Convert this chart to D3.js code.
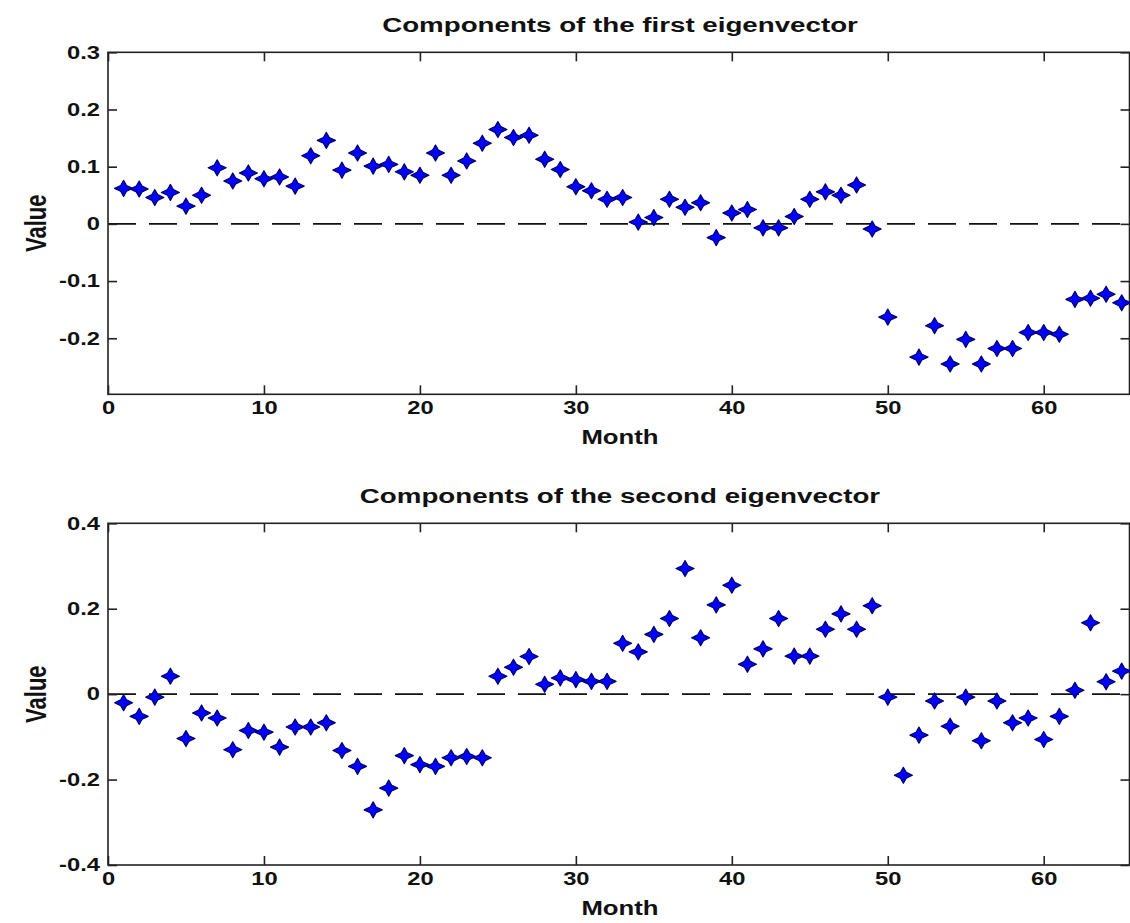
<!DOCTYPE html>
<html>
<head>
<meta charset="utf-8">
<script src="https://cdn.jsdelivr.net/npm/d3@7"></script>
<style>
  body { margin: 0; background: #fff; }
  svg text { font-family: "Liberation Sans", Arial, sans-serif; font-weight: bold; fill: #111; }
</style>
</head>
<body>
<svg id="chart" width="1130" height="923"></svg>
<script>
// months 1..65
let months = d3.range(1, 66);

// first eigenvector components (month 51 is not shown in the original)
let firstVec = [
  0.062, 0.061, 0.046, 0.055, 0.031, 0.050, 0.098, 0.075, 0.089, 0.079,
  0.082, 0.066, 0.119, 0.146, 0.094, 0.124, 0.101, 0.104, 0.091, 0.085,
  0.124, 0.085, 0.110, 0.141, 0.165, 0.151, 0.155, 0.113, 0.095, 0.065,
  0.058, 0.043, 0.046, 0.003, 0.011, 0.043, 0.029, 0.037, -0.024, 0.019,
  0.025, -0.007, -0.007, 0.013, 0.043, 0.056, 0.050, 0.068, -0.009, -0.163,
  null, -0.233, -0.178, -0.245, -0.202, -0.245, -0.218, -0.218, -0.190, -0.190,
  -0.193, -0.132, -0.130, -0.123, -0.138
];

// second eigenvector components
let secondVec = [
  -0.020, -0.052, -0.007, 0.042, -0.104, -0.044, -0.056, -0.130, -0.085, -0.089,
  -0.124, -0.077, -0.077, -0.067, -0.132, -0.169, -0.271, -0.220, -0.144, -0.165,
  -0.169, -0.149, -0.146, -0.149, 0.042, 0.063, 0.088, 0.023, 0.038, 0.034,
  0.030, 0.030, 0.119, 0.099, 0.140, 0.177, 0.294, 0.132, 0.209, 0.255,
  0.070, 0.106, 0.177, 0.089, 0.089, 0.152, 0.188, 0.152, 0.207, -0.007,
  -0.190, -0.096, -0.016, -0.075, -0.007, -0.109, -0.016, -0.067, -0.056, -0.106,
  -0.052, 0.009, 0.167, 0.029, 0.054
];

let xTicks = [0, 10, 20, 30, 40, 50, 60];
let yTicksTop = [-0.2, -0.1, 0, 0.1, 0.2, 0.3];
let yTicksBottom = [-0.4, -0.2, 0, 0.2, 0.4];

let panels = [
  { title: "Components of the first eigenvector", values: firstVec, yDomain: [-0.298, 0.3],
    yTicks: yTicksTop, top: 52.3, bottom: 394.3 },
  { title: "Components of the second eigenvector", values: secondVec, yDomain: [-0.4, 0.4],
    yTicks: yTicksBottom, top: 523.3, bottom: 865 }
];

let left = 108, right = 1129.5;
// the original picture is stretched sideways, text too
let sx = 1.32;
let svg = d3.select("#chart");

// four point star marker
let star = "M0,-8 L2.9,-2.9 L9,0 L2.9,2.9 L0,8 L-2.9,2.9 L-9,0 L-2.9,-2.9 Z";

let fmt = function(d) { return d === 0 ? "0" : d.toFixed(1); };

panels.forEach(function(p) {
  let x = d3.scaleLinear().domain([0, 65.5]).range([left, right]);
  let y = d3.scaleLinear().domain(p.yDomain).range([p.bottom, p.top]);

  let g = svg.append("g");

  // zero line, dashed
  g.append("line")
    .attr("x1", left).attr("x2", right)
    .attr("y1", y(0)).attr("y2", y(0))
    .attr("stroke", "#111").attr("stroke-width", 1.8)
    .attr("stroke-dasharray", "28,13");

  // axes, ticks point inward
  let xb = g.append("g").attr("transform", "translate(0," + p.bottom + ")")
    .call(d3.axisBottom(x).tickValues(xTicks).tickSize(-9).tickPadding(7).tickFormat(d3.format("d")));
  let xt = g.append("g").attr("transform", "translate(0," + p.top + ")")
    .call(d3.axisTop(x).tickValues(xTicks).tickSize(-9).tickFormat(""));
  let yl = g.append("g").attr("transform", "translate(" + left + ",0)")
    .call(d3.axisLeft(y).tickValues(p.yTicks).tickSize(-9).tickPadding(8).tickFormat(fmt));
  let yr = g.append("g").attr("transform", "translate(" + right + ",0)")
    .call(d3.axisRight(y).tickValues(p.yTicks).tickSize(-9).tickFormat(""));

  [xb, xt, yl, yr].forEach(function(a) {
    a.selectAll(".domain").remove();
    a.selectAll(".tick line").attr("stroke", "#222").attr("stroke-width", 1.6);
    a.selectAll("text").style("font-size", "18px").style("font-family", "Liberation Sans, Arial, sans-serif")
      .style("font-weight", "bold").attr("fill", "#111");
  });
  xb.selectAll("text").attr("transform", "scale(" + sx + ",1)");
  yl.selectAll("text").attr("transform", "translate(-8,0) scale(" + sx + ",1) translate(8,0)");

  // frame
  g.append("rect")
    .attr("x", left).attr("y", p.top)
    .attr("width", right - left).attr("height", p.bottom - p.top)
    .attr("fill", "none").attr("stroke", "#222").attr("stroke-width", 1.6);

  // markers
  g.selectAll(".pt")
    .data(months.map(function(m, i) { return { m: m, v: p.values[i] }; })
      .filter(function(d) { return d.v !== null; }))
    .enter().append("path")
    .attr("class", "pt")
    .attr("d", star)
    .attr("transform", function(d) { return "translate(" + x(d.m) + "," + y(d.v) + ")"; })
    .attr("fill", "#0000ff")
    .attr("stroke", "#00006a")
    .attr("stroke-width", 1.2)
    .attr("stroke-linejoin", "round");

  // title and labels
  g.append("text")
    .attr("transform", "translate(620," + (p.top - 20) + ") scale(" + sx + ",1)")
    .attr("text-anchor", "middle")
    .style("font-size", "21px")
    .text(p.title);

  g.append("text")
    .attr("transform", "translate(620," + (p.bottom + 50) + ") scale(" + sx + ",1)")
    .attr("text-anchor", "middle")
    .style("font-size", "19.5px")
    .text("Month");

  g.append("text")
    .attr("transform", "translate(46," + ((p.top + p.bottom) / 2) + ") scale(" + sx + ",1) rotate(-90)")
    .attr("text-anchor", "middle")
    .style("font-size", "22px")
    .text("Value");
});
</script>
</body>
</html>
